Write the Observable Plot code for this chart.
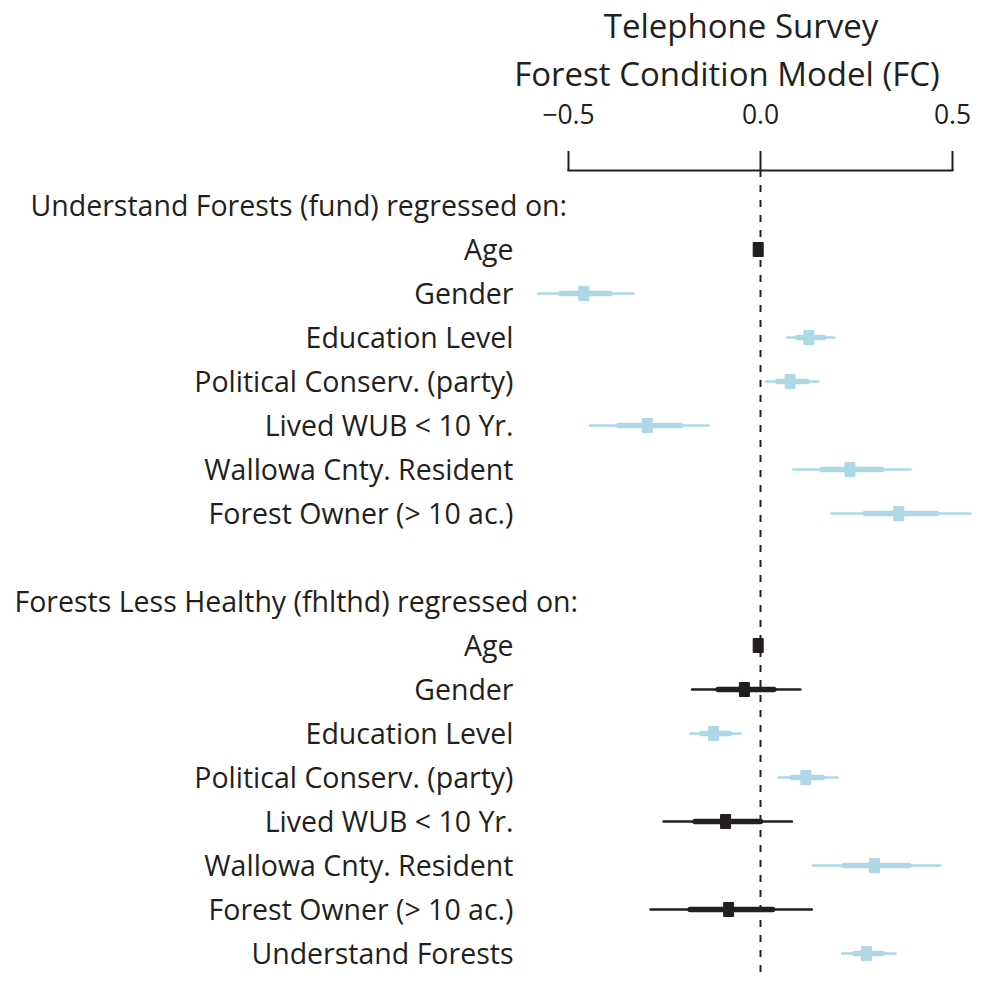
<!DOCTYPE html>
<html>
<head>
<meta charset="utf-8">
<script src="https://cdn.jsdelivr.net/npm/d3@7"></script>
<script src="https://cdn.jsdelivr.net/npm/@observablehq/plot@0.6"></script>
<style>
  html, body { margin: 0; padding: 0; background: #fff; overflow: hidden; }
  #wrap { position: relative; width: 982px; height: 987px; font-family: "Open Sans", sans-serif; color: #231f20; }
  .title { position: absolute; transform: translateX(-50%); white-space: nowrap; font-size: 33px; line-height: 33px; }
  #chart { position: absolute; left: 0; top: 0; }
</style>
</head>
<body>
<div id="wrap">
  <div class="title" style="left:741px; top:9px;">Telephone Survey</div>
  <div class="title" style="left:727px; top:57px;">Forest Condition Model (FC)</div>
  <div id="chart"></div>
</div>
<script>
// ---- data ----
const headers = ["Understand Forests (fund) regressed on:", "Forests Less Healthy (fhlthd) regressed on:"];
const headerRows = [0, 9];
const predictors = [
  "Age", "Gender", "Education Level", "Political Conserv. (party)", "Lived WUB < 10 Yr.",
  "Wallowa Cnty. Resident", "Forest Owner (> 10 ac.)",
  "Age", "Gender", "Education Level", "Political Conserv. (party)", "Lived WUB < 10 Yr.",
  "Wallowa Cnty. Resident", "Forest Owner (> 10 ac.)", "Understand Forests"
];
const predictorRows = [1, 2, 3, 4, 5, 6, 7, 10, 11, 12, 13, 14, 15, 16, 17];
const estimate = [-0.006, -0.460, 0.126, 0.077, -0.295, 0.233, 0.360, -0.006, -0.042, -0.122, 0.118, -0.091, 0.297, -0.083, 0.276];
const lo95 = [-0.012, -0.578, 0.071, 0.016, -0.443, 0.087, 0.186, -0.012, -0.177, -0.182, 0.049, -0.251, 0.138, -0.285, 0.214];
const hi95 = [0.001, -0.329, 0.194, 0.152, -0.134, 0.392, 0.548, 0.001, 0.105, -0.050, 0.201, 0.083, 0.469, 0.135, 0.353];
const lo50 = [-0.010, -0.519, 0.098, 0.046, -0.368, 0.161, 0.274, -0.010, -0.109, -0.152, 0.085, -0.169, 0.218, -0.182, 0.246];
const hi50 = [-0.002, -0.391, 0.165, 0.122, -0.208, 0.317, 0.459, -0.002, 0.036, -0.080, 0.163, 0.001, 0.388, 0.033, 0.320];
const significant = [false, true, true, true, true, true, true, false, false, true, true, false, true, false, true];
const xTicks = [-0.5, 0.0, 0.5];

// ---- build table ----
const rows = d3.range(18);
const table = predictors.map((label, i) => ({
  row: predictorRows[i], label, est: estimate[i], lo95: lo95[i], hi95: hi95[i],
  lo50: lo50[i], hi50: hi50[i], sig: significant[i]
}));
const labelOf = new Map(table.map(d => [d.row, d.label]));
const ink = "#231f20";
const blue = "#add8e6";
const colorOf = d => d.sig ? blue : ink;

const boxSymbol = { draw(ctx) { ctx.moveTo(-5, -7); ctx.lineTo(5, -7); ctx.lineTo(5, 7); ctx.lineTo(-5, 7); ctx.closePath(); } };

const chart = Plot.plot({
  width: 982,
  height: 987,
  marginTop: 170,
  marginBottom: 12,
  marginLeft: 568,
  marginRight: 30,
  style: { fontFamily: "'Open Sans', sans-serif", fontSize: "28px", color: ink, background: "transparent" },
  x: { domain: [-0.5, 0.5], label: null },
  y: { type: "point", domain: rows, padding: 0, insetTop: 32, insetBottom: 20, label: null },
  marks: [
    Plot.frame({ anchor: "top", stroke: ink, strokeWidth: 2 }),
    Plot.axisX({ anchor: "top", ticks: xTicks, tickFormat: d3.format(".1f"), tickSize: 20, tickPadding: 27, strokeWidth: 2, stroke: ink, fontSize: 26.5, label: null }),
    Plot.axisY({ ticks: predictorRows, tickFormat: r => labelOf.get(r), tickSize: 0, tickPadding: 55, fontSize: 28.5, fill: ink, dy: 1, label: null }),
    Plot.text([headerRows[0]], { y: d => d, text: () => headers[0], frameAnchor: "left", textAnchor: "start", dx: -538, dy: 1, fontSize: 28.5, fill: ink }),
    Plot.text([headerRows[1]], { y: d => d, text: () => headers[1], frameAnchor: "left", textAnchor: "start", dx: -554, dy: 1, fontSize: 28.5, fill: ink }),
    Plot.ruleX([0], { stroke: ink, strokeWidth: 2, strokeDasharray: "7,8" }),
    Plot.ruleY(table, { y: "row", x1: "lo95", x2: "hi95", stroke: colorOf, strokeWidth: 2.5, strokeLinecap: "round" }),
    Plot.ruleY(table, { y: "row", x1: "lo50", x2: "hi50", stroke: colorOf, strokeWidth: 5.5, strokeLinecap: "round" }),
    Plot.dot(table, { y: "row", x: "est", symbol: boxSymbol, fill: colorOf, stroke: colorOf, strokeWidth: 1, strokeLinejoin: "round", r: 7 })
  ]
});
document.getElementById("chart").appendChild(chart);
</script>
</body>
</html>
